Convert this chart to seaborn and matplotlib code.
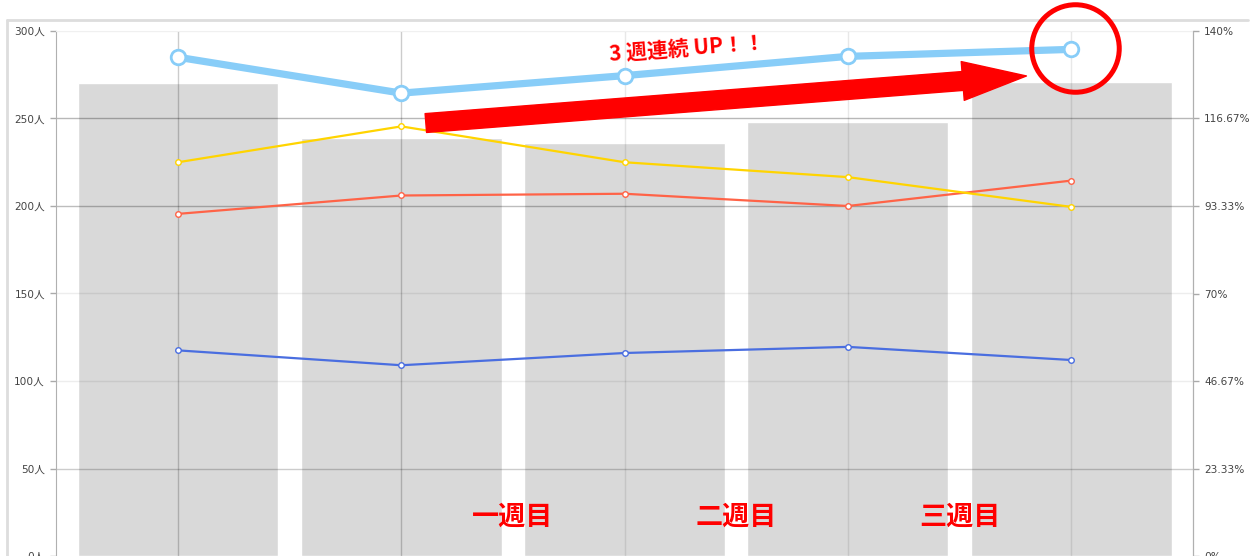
import numpy as np
import matplotlib
matplotlib.use("Agg")
import matplotlib.pyplot as plt
import seaborn as sns
from matplotlib.lines import Line2D

# data
periods = ["期間1", "期間2", "期間3", "期間4", "期間5"]
total_people = [270, 239, 236, 248, 271]
line_skyblue = [285, 264.5, 274.5, 285.5, 289.5]
line_yellow = [225, 245.5, 225, 216.5, 199.5]
line_orange = [195.5, 206, 207, 200, 214.5]
line_blue = [117.5, 109, 116, 119.5, 112]

left_ticks = [0, 50, 100, 150, 200, 250, 300]
left_labels = ["0人", "50人", "100人", "150人", "200人", "250人", "300人"]
right_ticks = [0, 23.33, 46.67, 70, 93.33, 116.67, 140]
right_labels = ["0%", "23.33%", "46.67%", "70%", "93.33%", "116.67%", "140%"]
week_labels = ["一週目", "二週目", "三週目"]
headline = "3 週連続 UP！！"

sns.set_style("white")
plt.rcParams["font.family"] = ["DejaVu Sans", "Noto Sans CJK JP"]

W, H = 1250, 556
fig = plt.figure(figsize=(12.5, 5.56), dpi=100)

# outer frame (behind the chart)
fig.add_artist(Line2D([7 / W, 7 / W], [0, 1 - 20 / H], color="#dddddd", lw=2, zorder=-5))
fig.add_artist(Line2D([7 / W, 1248 / W], [1 - 20 / H, 1 - 20 / H], color="#dddddd", lw=2, zorder=-5))

ax = fig.add_axes([56 / W, 0, (1193 - 56) / W, 1 - 31 / H])

sns.barplot(x=periods, y=total_people, color="#d9d9d9", saturation=1,
            width=0.9, ax=ax, zorder=1)

x = np.arange(len(periods))

# gridlines drawn over the bars
grid_alpha = [0, 0.2, 0.07, 0.07, 0.26, 0.28, 0.03]
for t, a in zip(left_ticks, grid_alpha):
    ax.axhline(t, color="black", alpha=a, lw=1, zorder=1.5)
v_alpha = [0.2, 0.2, 0.09, 0.09, 0.09]
for xi, a in zip(x, v_alpha):
    ax.axvline(xi, color="black", alpha=a, lw=1, zorder=1.5)

thin = [(line_blue, "#4a6ee0"), (line_orange, "#ff6347"), (line_yellow, "#ffd400")]
for vals, c in thin:
    sns.lineplot(x=x, y=vals, color=c, lw=1.6, marker="o", ms=4,
                 markerfacecolor="white", markeredgecolor=c, markeredgewidth=1,
                 ax=ax, zorder=3)
sns.lineplot(x=x, y=line_skyblue, color="#88cdf8", lw=5.2, marker="o", ms=10.5,
             markerfacecolor="white", markeredgecolor="#88cdf8", markeredgewidth=2,
             ax=ax, zorder=4)

ax.set_xlim(-0.5465, 4.546)
ax.set_ylim(0, 300)
ax.set_yticks(left_ticks)
ax.set_yticklabels(left_labels)
ax.set_xticks([])
ax.set_xlabel("")
ax.tick_params(axis="y", left=True, length=4, width=1, color="#aaaaaa",
               labelsize=7.6, labelcolor="#444444", pad=4)
for s in ["left", "right"]:
    ax.spines[s].set_color("#b0b0b0")
ax.spines["top"].set_color("#f0f0f0")
ax.spines["bottom"].set_visible(False)

ax2 = ax.twinx()
ax2.set_ylim(0, 140)
ax2.set_yticks(right_ticks)
ax2.set_yticklabels(right_labels)
ax2.tick_params(axis="y", right=True, length=4, width=1, color="#aaaaaa",
                labelsize=7.6, labelcolor="#444444", pad=4)
for s in ["top", "bottom", "left"]:
    ax2.spines[s].set_visible(False)
ax2.spines["right"].set_color("#b0b0b0")

# red arrow
ax.annotate("", xy=(3.8, 274.3), xytext=(1.11, 247.4),
            arrowprops=dict(arrowstyle="simple,head_length=2.3,head_width=1.4,tail_width=0.68",
                            mutation_scale=20, color="red", shrinkA=0, shrinkB=0),
            zorder=5)

# red circle around the last point
ax.plot([x[-1] + 0.018], [line_skyblue[-1] + 1], marker="o", ms=63, mfc="none",
        mec="red", mew=3.6, clip_on=False, zorder=6)

ax.text(2.28, 290, headline, color="red", fontsize=15, fontweight="bold",
        family=["Noto Sans CJK JP", "DejaVu Sans"], rotation=4.3,
        ha="center", va="center", zorder=6)

for i, lab in enumerate(week_labels):
    ax.text(1.5 + i, 22.3, lab, color="red", fontsize=19.5, fontweight="bold",
            family=["Noto Sans CJK JP", "DejaVu Sans"], ha="center", va="center",
            zorder=6)

fig.savefig("out.png", dpi=100)
